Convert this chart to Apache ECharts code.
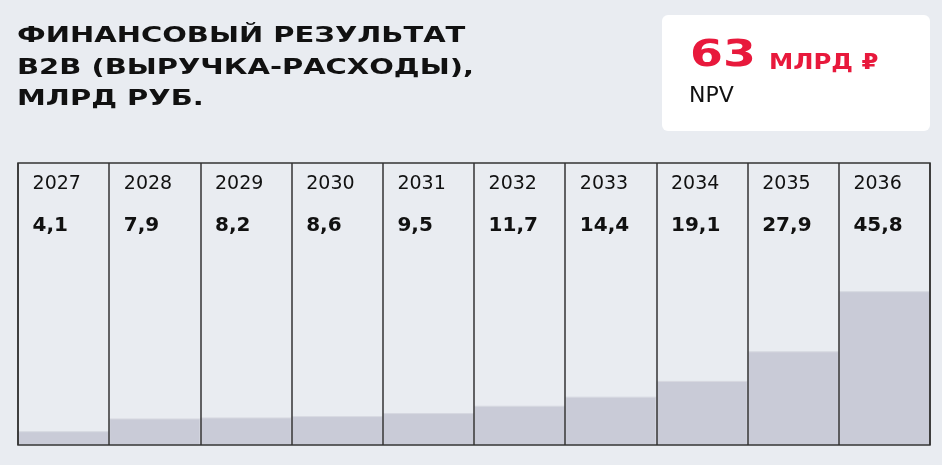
<!DOCTYPE html>
<html>
<head>
<meta charset="utf-8">
<script src="https://cdn.jsdelivr.net/npm/echarts@6/dist/echarts.min.js"></script>
<style>
	html, body { margin: 0; padding: 0; background: #e9ecf1; }
	#chart { width: 942px; height: 465px; }
</style>
</head>
<body>
<div id="chart"></div>
<script>
const years = ['2027', '2028', '2029', '2030', '2031', '2032', '2033', '2034', '2035', '2036'];
const values = [4.1, 7.9, 8.2, 8.6, 9.5, 11.7, 14.4, 19.1, 27.9, 45.8];
const titleLines = ['ФИНАНСОВЫЙ РЕЗУЛЬТАТ', 'B2B (ВЫРУЧКА-РАСХОДЫ),', 'МЛРД РУБ.'];
const npvValue = '63';
const npvUnit = 'МЛРД ₽';
const npvLabel = 'NPV';

const fmt = v => String(v).replace('.', ',');
const red = '#e8193c';
const ink = '#111';
const lineColor = '#333';

const chart = echarts.init(document.getElementById('chart'));
chart.setOption({
	backgroundColor: '#e9ecf1',
	animation: false,
	graphic: [
		...titleLines.map((t, i) => ({
			type: 'text',
			x: 17,
			y: 37 + i * 31.5,
			scaleX: 1.38,
			style: {
				text: t,
				font: 'bold 21px "DejaVu Sans"',
				fill: ink,
				verticalAlign: 'middle'
			}
		})),
		{
			type: 'rect',
			shape: { x: 662, y: 15, width: 268, height: 116, r: 6 },
			style: { fill: '#fff' }
		},
		{
			type: 'text',
			x: 690,
			y: 56,
			scaleX: 1.28,
			style: { text: npvValue, font: 'bold 37px "DejaVu Sans"', fill: red, verticalAlign: 'middle' }
		},
		{
			type: 'text',
			x: 769,
			y: 63.5,
			scaleX: 1.16,
			style: { text: npvUnit, font: 'bold 21px "DejaVu Sans"', fill: red, verticalAlign: 'middle' }
		},
		{
			type: 'text',
			x: 689,
			y: 96.5,
			style: { text: npvLabel, font: '22px "DejaVu Sans"', fill: ink, verticalAlign: 'middle' }
		}
	],
	grid: {
		left: 18,
		right: 12,
		top: 163,
		bottom: 20,
		show: true,
		z: 5,
		backgroundColor: 'transparent',
		borderColor: lineColor,
		borderWidth: 1.5
	},
	xAxis: {
		type: 'category',
		data: years,
		position: 'top',
		boundaryGap: true,
		z: 5,
		axisLine: { show: false },
		axisTick: { show: false },
		splitLine: {
			show: true,
			interval: 0,
			lineStyle: { color: lineColor, width: 1.5 }
		},
		axisLabel: {
			inside: true,
			interval: 0,
			margin: 0,
			align: 'left',
			verticalAlign: 'top',
			padding: [0, 0, 0, -31],
			formatter: (v, i) => `{y|${v}}\n{v|${fmt(values[i])}}`,
			rich: {
				y: { fontFamily: 'DejaVu Sans', fontSize: 19, color: ink, lineHeight: 42 },
				v: { fontFamily: 'DejaVu Sans', fontWeight: 'bold', fontSize: 20, color: ink, lineHeight: 42 }
			}
		}
	},
	yAxis: {
		type: 'value',
		min: 0,
		max: 84,
		show: false
	},
	series: [
		{
			type: 'bar',
			data: values,
			barCategoryGap: 0,
			itemStyle: {
				color: '#c9cbd7',
				borderColor: '#d6d8e0',
				borderWidth: 1
			}
		}
	]
});
</script>
</body>
</html>
